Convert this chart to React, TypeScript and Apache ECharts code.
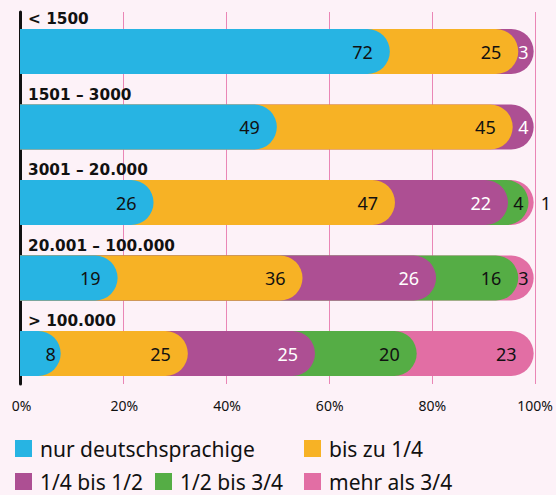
import React, { useEffect, useRef } from "react";
import * as echarts from "echarts";

const categories = ["< 1500", "1501 – 3000", "3001 – 20.000", "20.001 – 100.000", "> 100.000"];
const seriesNames = ["nur deutschsprachige", "bis zu 1/4", "1/4 bis 1/2", "1/2 bis 3/4", "mehr als 3/4"];
const nurDeutsch = [72, 49, 26, 19, 8];
const bisZuViertel = [25, 45, 47, 36, 25];
const viertelBisHalb = [3, 4, 22, 26, 25];
const halbBisDreiviertel = [0, 0, 4, 16, 20];
const mehrAlsDreiviertel = [0, 0, 1, 3, 23];
const xTicks = [0, 20, 40, 60, 80, 100];

const colors = ["#27b4e3", "#f7b225", "#ad4f93", "#55ad45", "#e26ea4"];
const labelColors = ["#111", "#111", "#fff", "#111", "#111"];
const legendPos = [
  [15, 438],
  [304, 438],
  [15, 471],
  [155, 471],
  [304, 471],
];

const FONT = "Noto Sans";

export default function App() {
  const ref = useRef<HTMLDivElement>(null);
  useEffect(() => {
    document.body.style.margin = "0";
    document.body.style.background = "#fdf2f8";
    const chart = echarts.init(ref.current!, null, { renderer: "svg" });
    const all = [nurDeutsch, bisZuViertel, viertelBisHalb, halbBisDreiviertel, mehrAlsDreiviertel];
    const totals = categories.map((_, r) => all.reduce((s, a) => s + a[r], 0));
    const series: any[] = [];
    for (let i = all.length - 1; i >= 0; i--) {
      const vals = all[i];
      const data = vals.map((v, r) => {
        if (!v) return "-";
        let cum = 0;
        for (let k = 0; k <= i; k++) cum += all[k][r];
        const value = (cum / totals[r]) * 100;
        let label: any;
        if (v < 2) label = { position: "right", distance: 7, color: "#111" };
        else if (v < 10) label = { position: "insideRight", distance: 5 };
        else label = { position: "insideRight", distance: 17 };
        return { value, label };
      });
      series.push({
        type: "bar",
        name: seriesNames[i],
        xAxisIndex: 0,
        yAxisIndex: 0,
        barWidth: 45,
        barGap: "-100%",
        itemStyle: { color: colors[i], borderRadius: [0, 22.5, 22.5, 0] },
        label: {
          show: true,
          fontFamily: FONT,
          fontSize: 18,
          color: labelColors[i],
          formatter: (p: any) => String(vals[p.dataIndex]),
        },
        data,
      });
    }
    const legends = seriesNames.map((n, i) => ({
      data: [n],
      left: legendPos[i][0],
      top: legendPos[i][1],
      padding: 0,
      icon: "rect",
      itemWidth: 17,
      itemHeight: 17,
      selectedMode: false,
      textStyle: {
        fontFamily: FONT,
        fontSize: 21,
        lineHeight: 17,
        color: "#111",
        padding: [0, 0, 0, 3],
      },
    }));
    chart.setOption({
      animation: false,
      backgroundColor: "#fdf2f8",
      color: colors,
      legend: legends,
      grid: [
        { left: 20, right: 21, top: 13.75, height: 377.5 },
        { left: 20, right: 21, top: 12, height: 372 },
      ],
      xAxis: [
        {
          gridIndex: 0,
          type: "value",
          min: xTicks[0],
          max: xTicks[xTicks.length - 1],
          interval: xTicks[1] - xTicks[0],
          axisLine: { show: false },
          axisTick: { show: false },
          splitLine: { show: false },
          axisLabel: {
            formatter: "{value}%",
            fontFamily: FONT,
            fontSize: 14,
            color: "#111",
            margin: 7,
            padding: [0, 0, 0, 3],
          },
        },
        {
          gridIndex: 1,
          type: "value",
          min: xTicks[0],
          max: xTicks[xTicks.length - 1],
          interval: xTicks[1] - xTicks[0],
          axisLine: { show: false },
          axisTick: { show: false },
          axisLabel: { show: false },
          splitLine: { show: true, lineStyle: { color: "#ea86b6", width: 1 } },
        },
      ],
      yAxis: [
        {
          gridIndex: 0,
          type: "category",
          inverse: true,
          data: categories,
          axisLine: { show: false },
          axisTick: { show: false },
          axisLabel: {
            inside: true,
            margin: 8,
            align: "left",
            verticalAlign: "bottom",
            padding: [0, 0, 25, 0],
            fontFamily: "DejaVu Sans",
            fontWeight: "bold",
            fontSize: 15.3,
            color: "#111",
          },
        },
        {
          gridIndex: 1,
          type: "value",
          offset: 1.5,
          axisLine: { show: true, lineStyle: { color: "#111", width: 3 } },
          axisTick: { show: false },
          axisLabel: { show: false },
          splitLine: { show: false },
        },
      ],
      series,
    });
    return () => chart.dispose();
  }, []);
  return <div ref={ref} style={{ width: 556, height: 495, background: "#fdf2f8" }} />;
}
